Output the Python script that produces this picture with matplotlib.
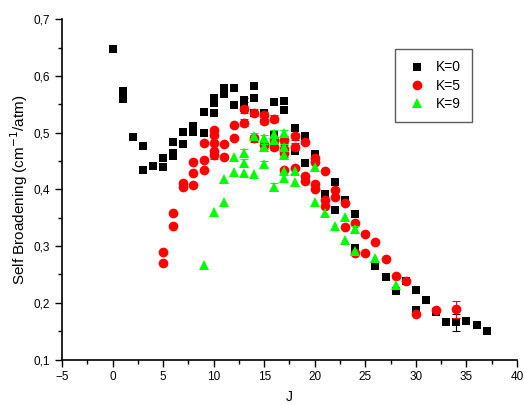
import numpy as np
import matplotlib
matplotlib.use("Agg")
from matplotlib import pyplot as plt
from matplotlib.ticker import MultipleLocator, FuncFormatter

plt.rcParams['font.family'] = ['Liberation Sans', 'DejaVu Sans']

# K=0 (quadrados pretos)
j_k0 = [0, 1, 1, 2, 3, 3, 4, 5, 5, 6, 6, 6, 7, 7, 8, 8, 9, 9, 10, 10, 10,
        11, 11, 12, 12, 13, 13, 14, 14, 14, 15, 16, 16, 17, 17, 18, 18, 19, 19,
        20, 21, 22, 22, 23, 24, 24, 26, 27, 28, 29, 30, 30, 31, 32, 33, 34, 35, 36, 37]
b_k0 = [0.647, 0.574, 0.560, 0.493, 0.477, 0.435, 0.442, 0.455, 0.439, 0.484, 0.465, 0.459,
        0.502, 0.480, 0.511, 0.502, 0.536, 0.499, 0.562, 0.552, 0.534,
        0.578, 0.568, 0.579, 0.549, 0.558, 0.543, 0.582, 0.562, 0.534, 0.535, 0.554, 0.496,
        0.556, 0.540, 0.508, 0.468, 0.494, 0.446, 0.462, 0.392, 0.413, 0.364, 0.381,
        0.357, 0.296, 0.265, 0.245, 0.221, 0.239, 0.223, 0.187, 0.205, 0.184, 0.166,
        0.166, 0.168, 0.161, 0.151]
e_k0 = [0] * len(j_k0)
e_k0[j_k0.index(34)] = 0.015
e_k0[j_k0.index(13)] = 0.004

# K=5 (circulos vermelhos)
j_k5 = [5, 5, 6, 6, 7, 7, 8, 8, 8, 9, 9, 9, 10, 10, 10, 10, 10, 11, 11, 12, 12,
        13, 13, 14, 14, 15, 15, 15, 16, 16, 16, 17, 17, 17, 17, 18, 18, 18,
        19, 19, 19, 20, 20, 20, 20, 21, 21, 21, 22, 22, 23, 23, 24, 24, 25, 25,
        26, 27, 28, 29, 30, 32, 34]
b_k5 = [0.289, 0.271, 0.358, 0.335, 0.411, 0.404, 0.449, 0.429, 0.407, 0.482, 0.452, 0.435,
        0.505, 0.496, 0.482, 0.467, 0.461, 0.480, 0.458, 0.513, 0.490,
        0.541, 0.518, 0.535, 0.490, 0.531, 0.521, 0.478, 0.525, 0.487, 0.475,
        0.488, 0.472, 0.464, 0.434, 0.494, 0.475, 0.438, 0.484, 0.424, 0.415,
        0.455, 0.449, 0.409, 0.400, 0.433, 0.381, 0.370, 0.399, 0.387, 0.376, 0.334,
        0.341, 0.288, 0.322, 0.288, 0.307, 0.277, 0.247, 0.239, 0.180, 0.187, 0.189]
e_k5 = [0] * len(j_k5)
for i, (j, b) in enumerate(zip(j_k5, b_k5)):
    if 13 <= j <= 18 and b > 0.45:
        e_k5[i] = 0.006
e_k5[j_k5.index(10) + 4] = 0.007
e_k5[j_k5.index(34)] = 0.015

# K=9 (triangulos verdes)
j_k9 = [9, 10, 11, 11, 12, 12, 13, 13, 13, 14, 14, 15, 15, 15, 16, 16, 16,
        17, 17, 17, 17, 17, 18, 18, 20, 20, 21, 22, 23, 23, 24, 24, 26, 28]
b_k9 = [0.267, 0.361, 0.419, 0.377, 0.458, 0.430, 0.465, 0.447, 0.429, 0.494, 0.428,
        0.490, 0.474, 0.445, 0.498, 0.487, 0.405, 0.499, 0.474, 0.461, 0.432, 0.421,
        0.433, 0.413, 0.440, 0.377, 0.358, 0.336, 0.352, 0.311, 0.330, 0.291, 0.279, 0.231]
e_k9 = [0] * len(j_k9)
for i, (j, b) in enumerate(zip(j_k9, b_k9)):
    if 13 <= j <= 17 and b > 0.44:
        e_k9[i] = 0.006
e_k9[j_k9.index(16) + 2] = 0.007
e_k9[j_k9.index(24)] = 0.006

series = [
    ('K=0', j_k0, b_k0, e_k0, 's', 'black', 6.0),
    ('K=5', j_k5, b_k5, e_k5, 'o', '#ff0000', 7.0),
    ('K=9', j_k9, b_k9, e_k9, '^', '#00ff00', 7.0),
]

fig = plt.figure(figsize=(5.24, 4.05), dpi=100)
ax = fig.add_axes([0.1183, 0.1123, 0.8683, 0.8400])

for nome, jj, bb, ee, mk, cor, ms in series:
    ax.plot(jj, bb, linestyle='none', marker=mk, color=cor, markersize=ms,
            markeredgewidth=0, label=nome)
    jj = np.array(jj); bb = np.array(bb); ee = np.array(ee)
    m = ee > 0
    ax.errorbar(jj[m], bb[m], yerr=ee[m], fmt='none', ecolor=cor,
                elinewidth=0.8, capsize=3, capthick=0.8)

ax.set_xlim(-5, 40)
ax.set_ylim(0.1, 0.7)
ax.xaxis.set_major_locator(MultipleLocator(5))
ax.xaxis.set_minor_locator(MultipleLocator(2.5))
ax.yaxis.set_major_locator(MultipleLocator(0.1))
ax.yaxis.set_minor_locator(MultipleLocator(0.05))
ax.yaxis.set_major_formatter(FuncFormatter(lambda v, p: f"{v:.1f}".replace('.', ',')))

ax.spines['top'].set_visible(False)
ax.spines['right'].set_visible(False)
ax.spines['left'].set_linewidth(1.2)
ax.spines['bottom'].set_linewidth(1.2)
ax.tick_params(which='major', direction='out', length=5, width=1, labelsize=8.5)
ax.tick_params(which='minor', direction='out', length=3, width=1)

ax.set_ylabel('Self Broadening (cm$^{-1}$/atm)', fontsize=11, labelpad=3)
ax.set_xlabel('J', fontsize=10, labelpad=5)

leg = ax.legend(loc='upper left', bbox_to_anchor=(0.7325, 0.912), borderaxespad=0,
                fontsize=10, frameon=True, fancybox=False, handletextpad=0.6,
                handlelength=1.5, labelspacing=0.3, borderpad=0.8)
leg.get_frame().set_edgecolor('#333333')
leg.get_frame().set_linewidth(1.0)

plt.savefig('out.png', dpi=100)
